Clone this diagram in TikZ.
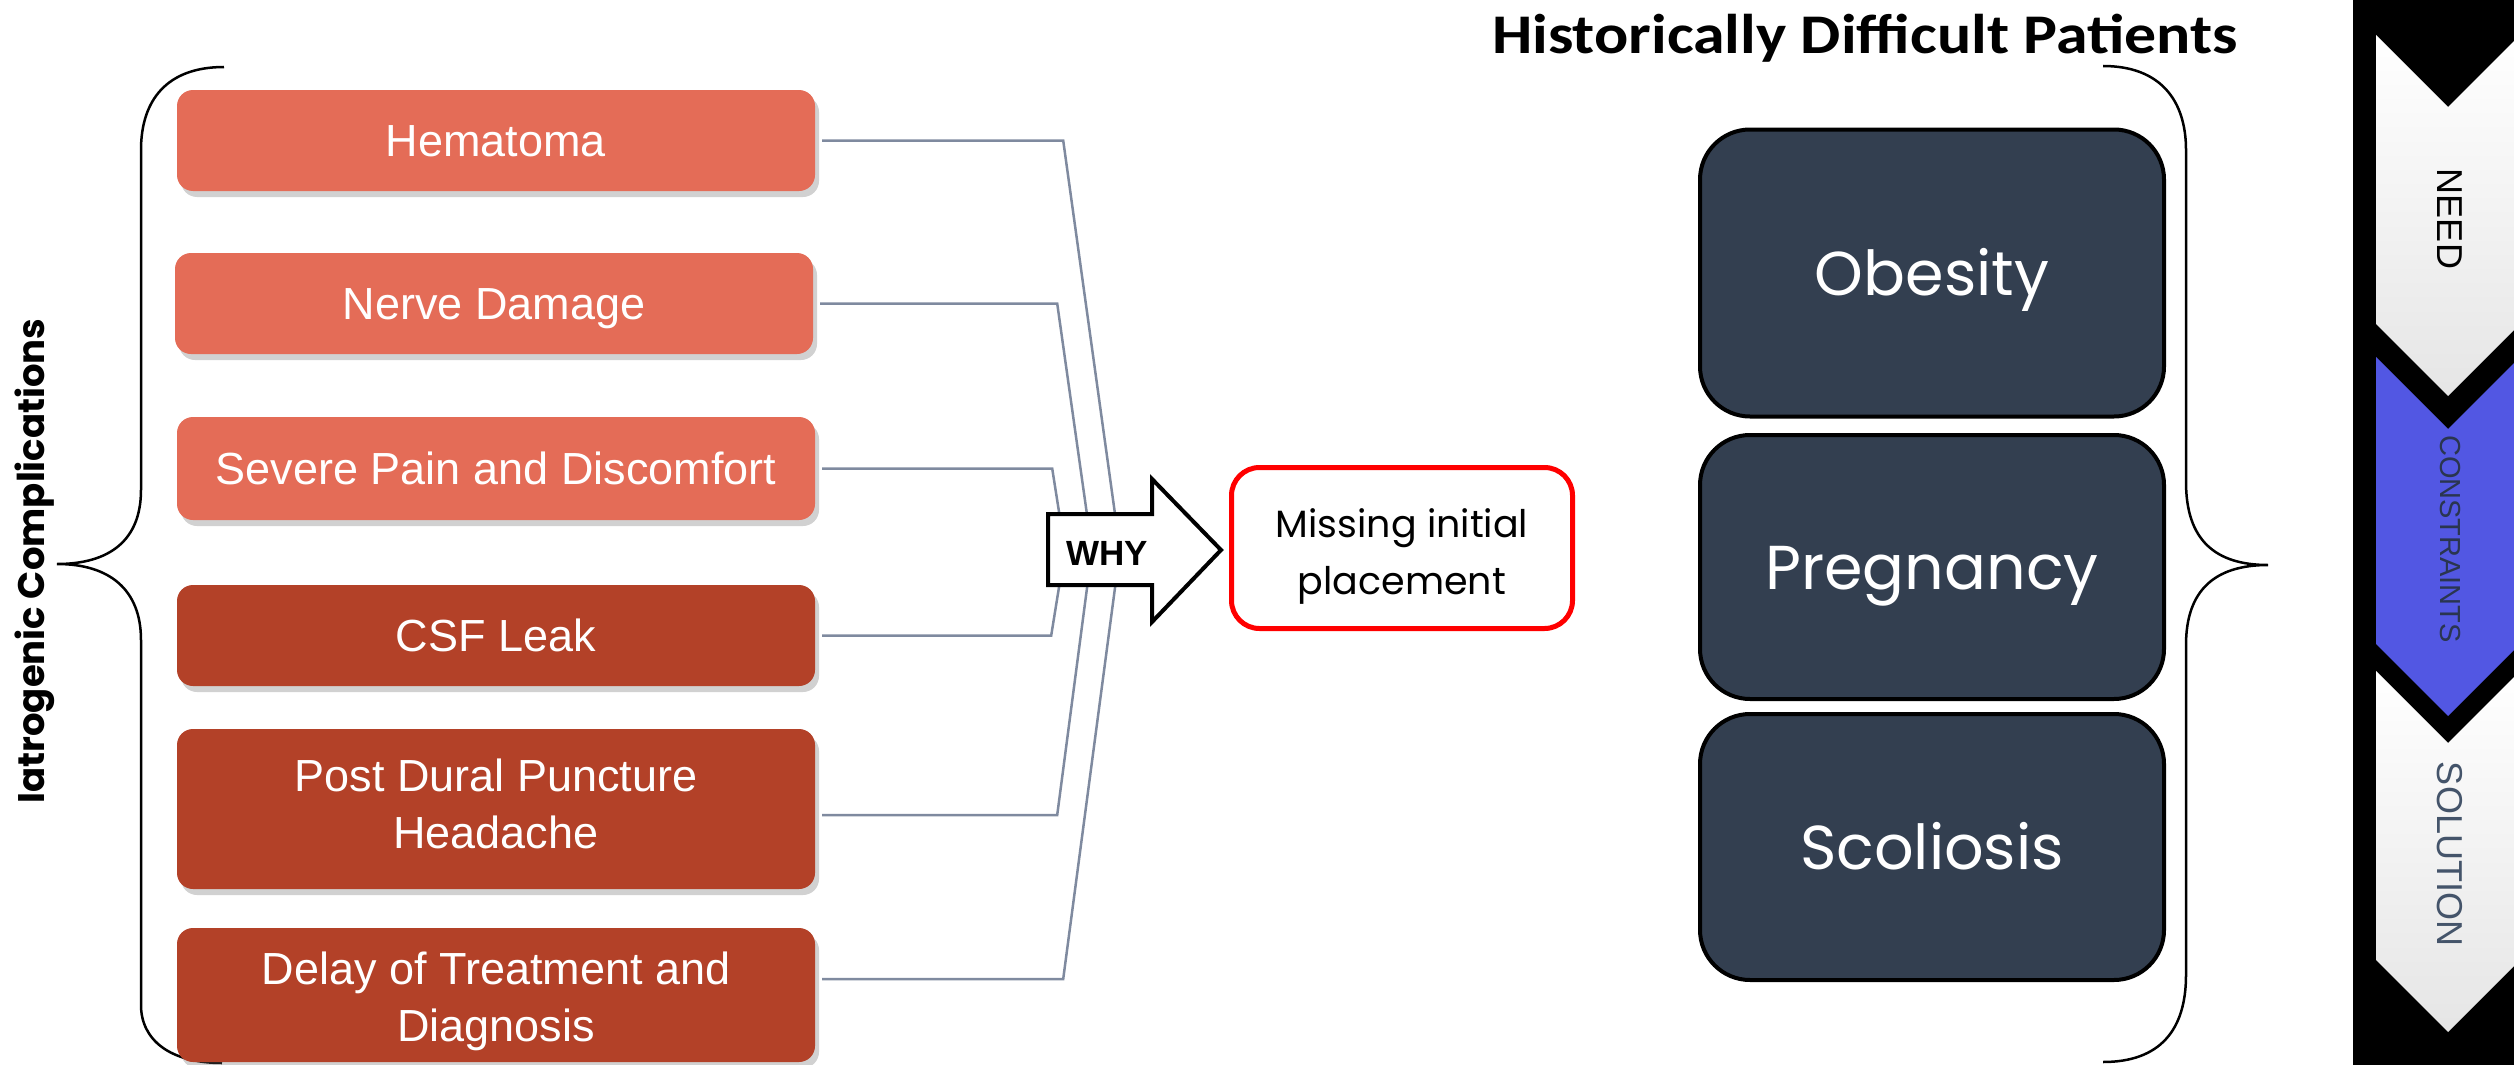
\documentclass[tikz,border=0pt]{standalone}
\usepackage{fontspec}
\setmainfont{Liberation Sans}
\newfontfamily\popf{Poppins}
\newfontfamily\carl{Carlito}
\usetikzlibrary{shadows,calc}
\definecolor{salmon}{HTML}{E46C57}
\definecolor{rust}{HTML}{B34128}
\definecolor{navy}{HTML}{333F50}
\definecolor{conncol}{HTML}{7F8A9F}
\definecolor{chevblue}{HTML}{5257E3}
\definecolor{consc}{HTML}{2A3550}
\definecolor{solc}{HTML}{44546A}
\newcommand{\twolines}[3]{\raisebox{#1}[\height][\depth]{\begin{tabular}{@{}c@{}}#2\\#3\end{tabular}}}
\begin{document}
\begin{tikzpicture}[x=1pt,y=-1pt,
  lbox/.style={rounded corners=16pt, minimum width=638pt, text=white,
    font=\fontsize{45}{57}\selectfont, align=center, inner sep=0pt,
    drop shadow={shadow xshift=4pt, shadow yshift=-6pt, fill=black!60, opacity=0.3}},
  oneline/.style={text height=32pt, text depth=0pt},
  lightbox/.style={lbox, fill=salmon},
  darkbox/.style={lbox, fill=rust},
  conn/.style={draw=conncol, line width=2.5pt},
  rbox/.style={draw=black, line width=4pt, fill=navy, rounded corners=50pt,
    minimum width=464pt, text=white, inner sep=0pt, text height=44pt, text depth=0pt,
    font=\popf\fontsize{62}{70}\selectfont},
  brace/.style={draw=black, line width=2.5pt},
  chevlabel/.style={rotate=-90, inner sep=0pt}
]
\useasboundingbox (0,0) rectangle (2514,1065);

% braces (behind boxes)
\draw[brace] (224,67) .. controls (167,67) and (141,100) .. (141,150) -- (141,490)
  .. controls (141,540) and (110,564) .. (57,564)
  .. controls (110,564) and (141,590) .. (141,640) -- (141,1005)
  .. controls (141,1040) and (170,1063) .. (222,1063);
\draw[brace] (2103,66) .. controls (2160,66) and (2186,100) .. (2186,150) -- (2186,482)
  .. controls (2186,540) and (2215,565) .. (2268,565)
  .. controls (2215,565) and (2186,590) .. (2186,645) -- (2186,975)
  .. controls (2186,1030) and (2160,1062) .. (2103,1062);

% left boxes
\node[lightbox, oneline, minimum height=101pt] (hem) at (496,140.5) {Hematoma};
\node[lightbox, oneline, minimum height=101pt] (nerve) at (494,303.5) {Nerve Damage};
\node[lightbox, oneline, minimum height=103pt] (pain) at (496,468.5) {Severe Pain and Discomfort};
\node[darkbox, oneline, minimum height=101pt] (csf) at (496,635.5) {CSF Leak};
\node[darkbox, minimum height=160pt] (pdph) at (496,809) {\twolines{0pt}{Post Dural Puncture}{Headache}};
\node[darkbox, minimum height=134pt] (delay) at (496,995) {\twolines{-7pt}{Delay of Treatment and}{Diagnosis}};

\node[rotate=90, inner sep=0pt, font=\popf\bfseries\fontsize{37}{42}\selectfont] (iatro) at (35,561) {Iatrogenic Complications};

% convergence points (hidden under the arrow)
\coordinate (cA) at (1120,550);
\coordinate (cB) at (1092,550);
\coordinate (cC) at (1065,550);

\draw[conn] ([xshift=7pt]hem.east) -- ($(hem.east)+(248,0)$) -- (cA);
\draw[conn] ([xshift=7pt]nerve.east) -- ($(nerve.east)+(244,0)$) -- (cB);
\draw[conn] ([xshift=7pt]pain.east) -- ($(pain.east)+(237,0)$) -- (cC);
\draw[conn] ([xshift=7pt]csf.east) -- ($(csf.east)+(236,0)$) -- (cC);
\draw[conn] ([xshift=7pt,yshift=-6pt]pdph.east) -- ($(pdph.east)+(242,6)$) -- (cB);
\draw[conn] ([xshift=7pt,yshift=16pt]delay.east) -- ($(delay.east)+(248,-16)$) -- (cA);

% WHY arrow
\draw[line width=4pt, fill=white, line join=miter] (1048,514) -- (1152,514) -- (1152,479) -- (1221,550)
  -- (1152,622) -- (1152,585) -- (1048,585) -- cycle;
\node[font=\bfseries\fontsize{35}{40}\selectfont, inner sep=0pt] (why) at (1107,553) {WHY};

% missing box
\node[draw=red, line width=5pt, rounded corners=28pt, minimum width=341pt, minimum height=161pt,
  fill=white, inner sep=0pt, font=\popf\fontsize{38}{57}\selectfont] (miss) at (1402,548)
  {\twolines{-7pt}{Missing initial}{placement}};

% title
\node[anchor=base, inner sep=0pt, font=\carl\bfseries\fontsize{56}{60}\selectfont] (title) at (1865,54)
  {\scalebox{1.14}[1]{Historically Difficult Patients}};

% right boxes
\node[rbox, minimum height=287pt] (obes) at (1932,273) {Obesity};
\node[rbox, minimum height=264pt] (preg) at (1932,567) {Pregnancy};
\node[rbox, minimum height=266pt] (scol) at (1932,847) {Scoliosis};

% right band
\fill[black] (2353,0) rectangle (2514,1065);
\shade[top color=white, bottom color=black!10] (2376,35) -- (2448,107) -- (2520,35) -- (2520,324)
  -- (2448,396) -- (2376,324) -- cycle;
\fill[chevblue] (2376,357) -- (2448,429) -- (2520,357) -- (2520,644) -- (2448,716) -- (2376,644) -- cycle;
\shade[top color=white, bottom color=black!10] (2376,671) -- (2448,743) -- (2520,671) -- (2520,960)
  -- (2448,1032) -- (2376,960) -- cycle;
\node[chevlabel, font=\fontsize{36}{40}\selectfont] (need) at (2450,219) {NEED};
\node[chevlabel, text=consc, font=\fontsize{29}{34}\selectfont] (cons) at (2450,539) {CONSTRAINTS};
\node[chevlabel, text=solc, font=\fontsize{36}{40}\selectfont] (sol) at (2450,854) {SOLUTION};
\end{tikzpicture}
\end{document}
